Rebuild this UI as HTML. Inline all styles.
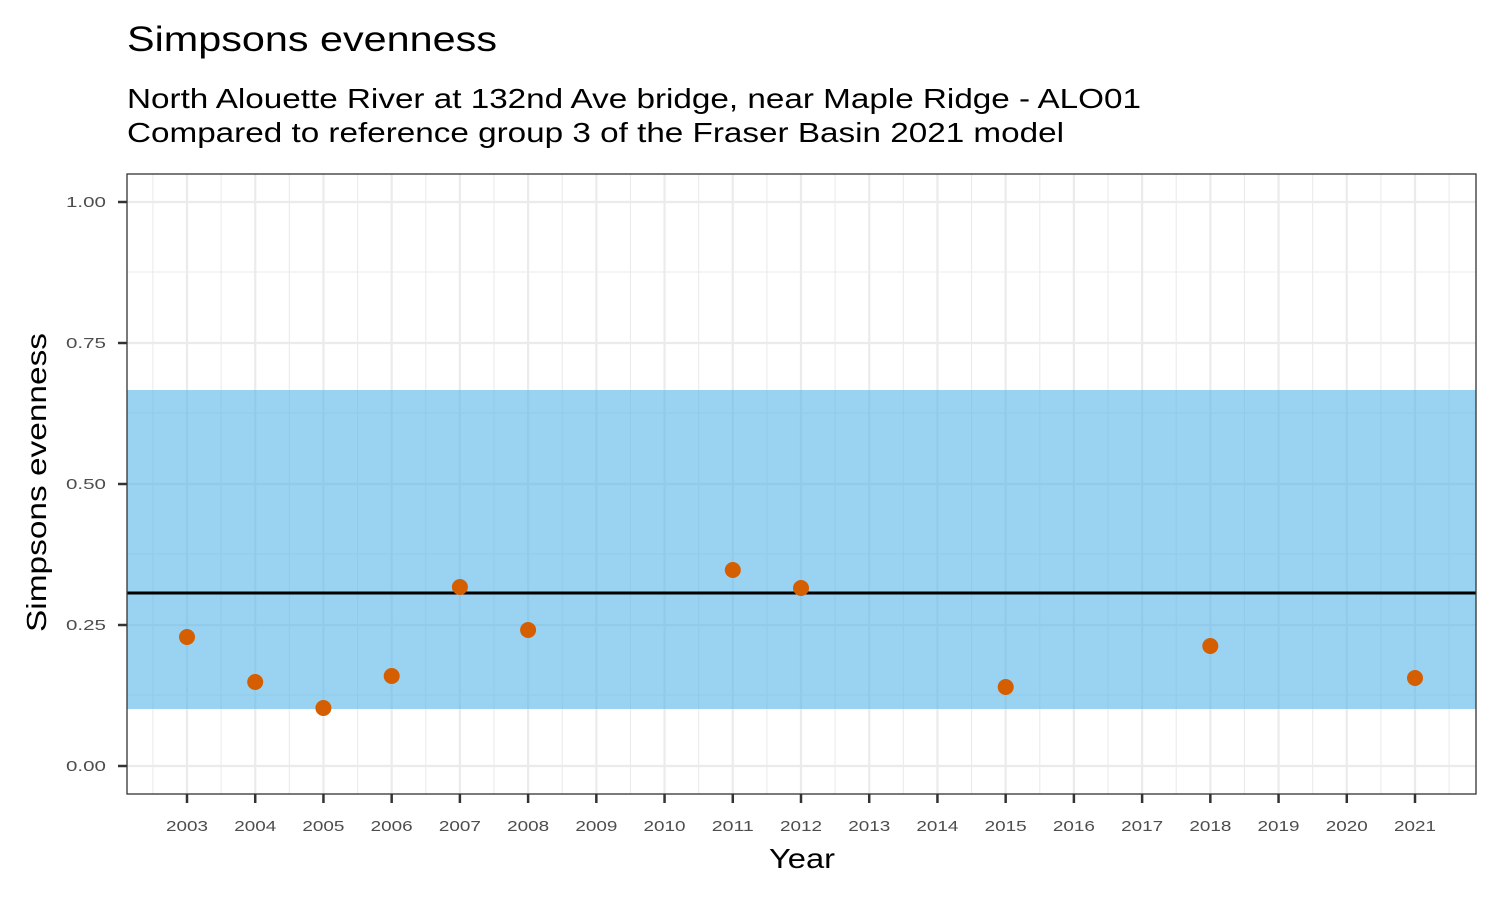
<!DOCTYPE html>
<html><head><meta charset="utf-8"><style>body{margin:0;background:#fff}svg{display:block}text{font-family:"Liberation Sans",Arial,sans-serif}</style></head>
<body>
<svg width="1500" height="900" viewBox="0 0 1500 900" xmlns="http://www.w3.org/2000/svg">
<rect width="1500" height="900" fill="#fff"/>
<text x="127" y="51" font-size="35" fill="#000" textLength="370" lengthAdjust="spacingAndGlyphs">Simpsons evenness</text>
<text x="127" y="108" font-size="28" fill="#000" textLength="1014" lengthAdjust="spacingAndGlyphs">North Alouette River at 132nd Ave bridge, near Maple Ridge - ALO01</text>
<text x="127" y="142" font-size="28" fill="#000" textLength="937" lengthAdjust="spacingAndGlyphs">Compared to reference group 3 of the Fraser Basin 2021 model</text>
<g stroke="#ebebeb" stroke-width="1.1">
<line x1="127" x2="1476" y1="272" y2="272"/><line x1="127" x2="1476" y1="413" y2="413"/><line x1="127" x2="1476" y1="554" y2="554"/><line x1="127" x2="1476" y1="695" y2="695"/>
<g id="minx"></g>
</g>
<g id="grid"></g>
<rect x="127" y="390" width="1349" height="319" fill="#56B4E9" fill-opacity="0.6"/>
<line x1="127" x2="1476" y1="593" y2="593" stroke="#000" stroke-width="3"/>
<g fill="#D55E00">
<circle cx="187" cy="637" r="8"/><circle cx="255.2" cy="682" r="8"/><circle cx="323.4" cy="708" r="8"/><circle cx="391.7" cy="676" r="8"/><circle cx="459.9" cy="587" r="8"/><circle cx="528.1" cy="630" r="8"/><circle cx="732.8" cy="570" r="8"/><circle cx="801" cy="588" r="8"/><circle cx="1005.7" cy="687" r="8"/><circle cx="1210.3" cy="646" r="8"/><circle cx="1415" cy="678" r="8"/>
</g>
<rect x="127" y="174" width="1349" height="620" fill="none" stroke="#333" stroke-width="1.3"/>
<g id="axes" font-size="15" fill="#4d4d4d"></g>
<text x="769" y="868" font-size="28" fill="#000" textLength="66" lengthAdjust="spacingAndGlyphs">Year</text>
<text transform="translate(46,632) rotate(-90)" font-size="28" fill="#000" textLength="299" lengthAdjust="spacingAndGlyphs">Simpsons evenness</text>
<script>
var ns="http://www.w3.org/2000/svg";
function el(p,t,a,txt){var e=document.createElementNS(ns,t);for(var k in a)e.setAttribute(k,a[k]);if(txt)e.textContent=txt;p.appendChild(e);return e;}
var g=document.getElementById("grid"),m=document.getElementById("minx"),ax=document.getElementById("axes");
var step=1228/18;
for(var i=-1;i<=19;i++){var x=187+step*i+step/2;if(x>127&&x<1476)el(m,"line",{x1:x,x2:x,y1:174,y2:794});}
var ys=[[766,"0.00"],[625,"0.25"],[484,"0.50"],[343,"0.75"],[202,"1.00"]];
ys.forEach(function(v){el(g,"line",{x1:127,x2:1476,y1:v[0],y2:v[0],stroke:"#ebebeb","stroke-width":2.2});
el(ax,"line",{x1:118,x2:127,y1:v[0],y2:v[0],stroke:"#333","stroke-width":2.5});
el(ax,"text",{x:66,y:v[0]+5,textLength:40,lengthAdjust:"spacingAndGlyphs"},v[1]);});
for(var i=0;i<=18;i++){var x=187+step*i;
el(g,"line",{x1:x,x2:x,y1:174,y2:794,stroke:"#ebebeb","stroke-width":2.2});
el(ax,"line",{x1:x,x2:x,y1:794,y2:803,stroke:"#333","stroke-width":2.5});
el(ax,"text",{x:x-21,y:831,textLength:42,lengthAdjust:"spacingAndGlyphs"},String(2003+i));}
</script>
</svg>
</body></html>
